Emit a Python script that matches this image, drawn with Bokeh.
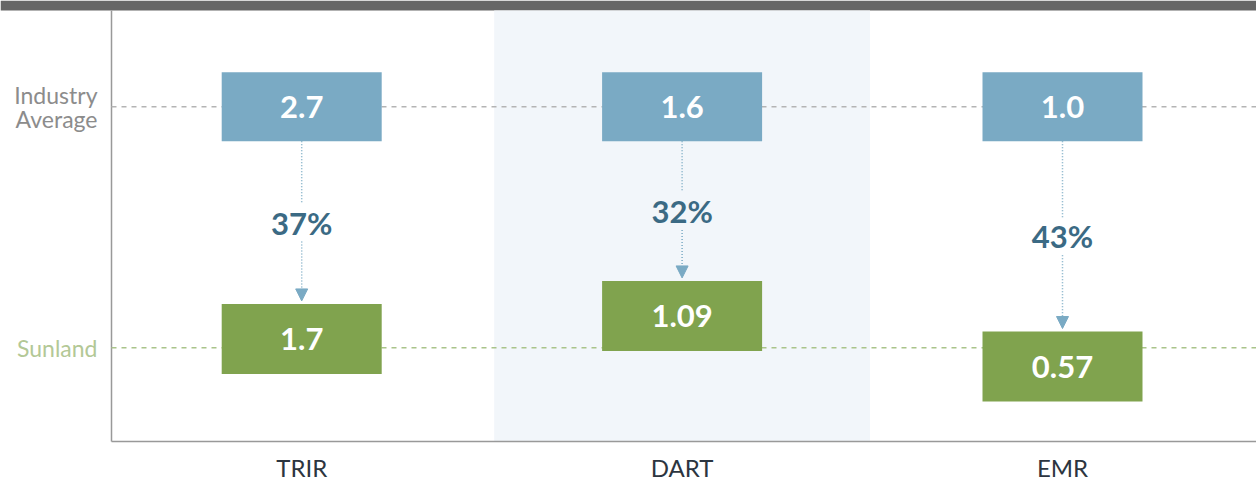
from bokeh.plotting import figure
from bokeh.models import Range1d, Arrow, NormalHead, ColumnDataSource
from bokeh.embed import file_html
from bokeh.resources import INLINE
from bokeh.core.properties import value

# ---------------- data ----------------
categories = ["TRIR", "DART", "EMR"]
industry_avg = [2.7, 1.6, 1.0]
sunland = [1.7, 1.09, 0.57]
reduction_pct = [37, 32, 43]
row_labels = ["Industry\nAverage", "Sunland"]
highlight = "DART"

# ---------------- style / layout ----------------
BLUE = "#7aaac4"
GREEN = "#80a34e"
PCT_COLOR = "#3b6a84"
CAT_COLOR = "#2c3540"
IND_LABEL_COLOR = "#8c8c8c"
SUN_LABEL_COLOR = "#b3c896"
BAND = "#f2f6fa"
TOPBAR = "#666666"
AXIS_COLOR = "#999999"
FONT = "Lato"

W, H = 1256, 483
PX_PER_X = 380.4          # screen pixels per category step
AXIS_LEFT_PX = 111        # pixel position of the left axis line
X_START = -AXIS_LEFT_PX / PX_PER_X
X_END = (W - AXIS_LEFT_PX) / PX_PER_X

Y_TOP = -34.4             # top of plotting area (just under the top bar)
Y_AXIS = 59.3             # bottom axis line
PX = (Y_AXIS - Y_TOP) / 431.0   # data units per screen pixel (y grows downward)
Y_MIN = Y_TOP - 10 * PX         # top edge of the figure
Y_MAX = Y_TOP + 473 * PX        # bottom edge of the figure
IND_LEVEL = -13.5
SUN_LEVEL = 38.9
CAT_LABEL_Y = Y_TOP + 457 * PX   # middle of category labels

n = len(categories)
xs = [i + 0.5 for i in range(n)]
ind_y = [IND_LEVEL] * n
sun_y = list(reduction_pct)

blue_bottom = [IND_LEVEL + 34.5 * PX] * n
green_top = [y - 35 * PX for y in sun_y]
mid = [(a + b) / 2 for a, b in zip(blue_bottom, green_top)]

p = figure(width=W, height=H, toolbar_location=None, output_backend="svg",
           x_range=Range1d(X_START, X_END), y_range=Range1d(Y_MAX, Y_MIN),
           min_border=0, outline_line_color=None,
           background_fill_color="white", border_fill_color="white")
p.grid.visible = False
p.axis.visible = False

# top bar
p.quad(left=[X_START], right=[X_END], top=[Y_MIN], bottom=[Y_TOP],
       fill_color=TOPBAR, line_color=None)

# highlight band
hi = categories.index(highlight)
p.quad(left=[xs[hi] - 0.494], right=[xs[hi] + 0.494], top=[Y_TOP], bottom=[Y_AXIS],
       fill_color=BAND, line_color=None)

# axis lines
p.segment(x0=[0], x1=[0], y0=[Y_TOP], y1=[Y_AXIS], line_color=AXIS_COLOR, line_width=1.5)
p.segment(x0=[0], x1=[X_END], y0=[Y_AXIS], y1=[Y_AXIS], line_color=AXIS_COLOR, line_width=1.5)

# reference lines
p.segment(x0=[0], x1=[X_END], y0=[IND_LEVEL], y1=[IND_LEVEL],
          line_color="#b4b4b4", line_width=1.5, line_dash="5 5")
p.segment(x0=[0], x1=[X_END], y0=[SUN_LEVEL], y1=[SUN_LEVEL],
          line_color="#a9c48a", line_width=1.5, line_dash="5 5")

# dotted connector (upper part)
p.segment(x0=xs, x1=xs, y0=blue_bottom, y1=[m - 19 * PX for m in mid],
          line_color=BLUE, line_width=1.5, line_dash="1 2")

# boxes
p.rect(x=xs, y=ind_y, width=160 / PX_PER_X, height=69, height_units="screen",
       fill_color=BLUE, line_color=None)
p.rect(x=xs, y=sun_y, width=160 / PX_PER_X, height=70, height_units="screen",
       fill_color=GREEN, line_color=None)

# value labels
bold = dict(text_font=value(FONT), text_font_style="bold", text_font_size="31px",
            text_align="center", text_baseline="middle")
p.text(x=xs, y=ind_y, text=[str(v) for v in industry_avg], text_color="white", **bold)
p.text(x=xs, y=sun_y, text=[str(v) for v in sunland], text_color="white", **bold)
p.text(x=xs, y=mid, text=[f"{v}%" for v in reduction_pct], text_color=PCT_COLOR, **bold)

# arrows (lower part)
arr_src = ColumnDataSource(dict(x=xs, y0=[m + 19 * PX for m in mid],
                                y1=[g - 3 * PX for g in green_top]))
p.add_layout(Arrow(end=NormalHead(size=12, fill_color=BLUE, line_color=BLUE, line_width=1),
                   source=arr_src, x_start="x", y_start="y0", x_end="x", y_end="y1",
                   line_color=BLUE, line_width=1.5, line_dash="1 2"))

# category labels
p.text(x=xs, y=[CAT_LABEL_Y] * n, text=categories, text_font=value(FONT),
       text_font_size="24px", text_color=CAT_COLOR, text_align="center",
       text_baseline="middle")

# row labels
p.text(x=[0], y=[IND_LEVEL], text=[row_labels[0]], x_offset=-14,
       text_align="right", text_baseline="middle", text_font=value(FONT),
       text_font_size="23px", text_color=IND_LABEL_COLOR, text_line_height=0.85)
p.text(x=[0], y=[SUN_LEVEL], text=[row_labels[1]], x_offset=-14,
       text_align="right", text_baseline="middle", text_font=value(FONT),
       text_font_size="23px", text_color=SUN_LABEL_COLOR)

open("out.html", "w").write(file_html(p, INLINE))
